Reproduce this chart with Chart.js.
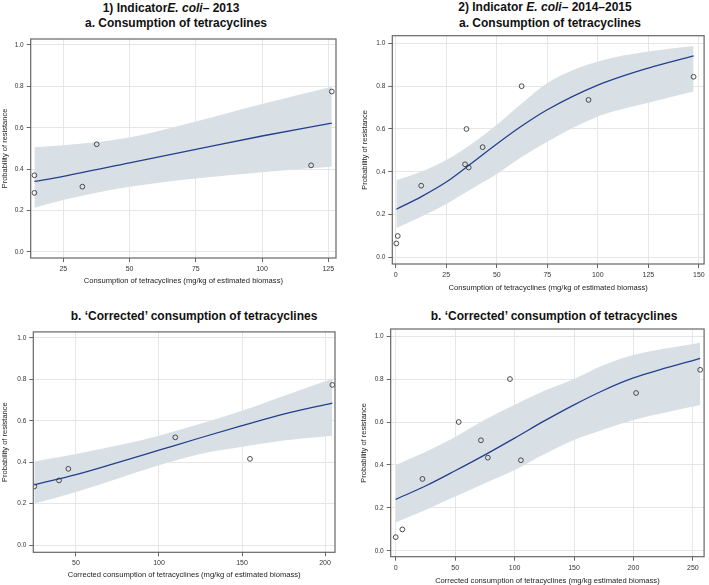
<!DOCTYPE html>
<html>
<head>
<meta charset="utf-8">
<script src="https://cdn.jsdelivr.net/npm/chart.js@4.4.0/dist/chart.umd.min.js"></script>
<style>
  body { margin: 0; background: #fff; font-family: "Liberation Sans", Arial, sans-serif; }
  #page { position: relative; width: 709px; height: 585px; overflow: hidden; background: #fff; }
  .ttl { position: absolute; transform: translateX(-50%); white-space: nowrap; font-weight: bold; font-size: 12px; line-height: 14px; color: #111; }
  canvas { position: absolute; }
</style>
</head>
<body>
<div id="page">
  <div class="ttl" style="left:171px;top:1px">1) Indicator<i>E. coli</i>– 2013</div>
  <div class="ttl" style="left:176px;top:16px">a. Consumption of tetracyclines</div>
  <div class="ttl" style="left:545px;top:0px">2) Indicator <i>E. coli</i>– 2014–2015</div>
  <div class="ttl" style="left:550px;top:16px">a. Consumption of tetracyclines</div>
  <div class="ttl" style="left:194px;top:309px">b. ‘Corrected’ consumption of tetracyclines</div>
  <div class="ttl" style="left:554px;top:309px">b. ‘Corrected’ consumption of tetracyclines</div>
  <canvas id="c1"></canvas>
  <canvas id="c2"></canvas>
  <canvas id="c3"></canvas>
  <canvas id="c4"></canvas>
</div>
<script>
// tick labels
const yTicks = [0, 0.2, 0.4, 0.6, 0.8, 1.0];
const p1XTicks = [25, 50, 75, 100, 125];
const p2XTicks = [0, 25, 50, 75, 100, 125, 150];
const p3XTicks = [50, 100, 150, 200];
const p4XTicks = [0, 50, 100, 150, 200, 250];

// 1a: 2013, consumption
const p1ObsX = [14.1, 14.1, 32.2, 37.6, 118.5, 126.3];
const p1ObsY = [0.370, 0.285, 0.315, 0.520, 0.418, 0.775];
const p1FitX = [14.1, 25, 50, 75, 100, 126.3];
const p1Fit = [0.340, 0.365, 0.430, 0.495, 0.560, 0.622];
const p1Upper = [0.505, 0.515, 0.553, 0.630, 0.715, 0.798];
const p1Lower = [0.213, 0.250, 0.314, 0.355, 0.385, 0.411];

// 2a: 2014-2015, consumption
const p2ObsX = [0.3, 1.0, 12.6, 34.3, 35.0, 36.1, 43.0, 62.3, 95.4, 147.4];
const p2ObsY = [0.065, 0.100, 0.335, 0.435, 0.600, 0.420, 0.515, 0.800, 0.736, 0.844];
const p2FitX = [0.3, 12.5, 25, 37.5, 50, 62.5, 75, 100, 125, 147.4];
const p2Fit = [0.225, 0.283, 0.352, 0.440, 0.530, 0.615, 0.690, 0.805, 0.885, 0.942];
const p2Upper = [0.360, 0.400, 0.455, 0.530, 0.620, 0.720, 0.815, 0.915, 0.962, 0.988];
const p2Lower = [0.137, 0.190, 0.250, 0.320, 0.390, 0.470, 0.540, 0.658, 0.723, 0.775];

// 1b: 2013, corrected consumption
const p3ObsX = [24.9, 39.8, 45.4, 109.8, 154.8, 204.4];
const p3ObsY = [0.283, 0.312, 0.368, 0.520, 0.416, 0.773];
const p3FitX = [24.9, 50, 75, 100, 125, 150, 175, 204.4];
const p3Fit = [0.291, 0.340, 0.398, 0.458, 0.518, 0.576, 0.632, 0.685];
const p3Upper = [0.403, 0.440, 0.480, 0.528, 0.585, 0.648, 0.720, 0.803];
const p3Lower = [0.200, 0.256, 0.320, 0.385, 0.440, 0.475, 0.505, 0.528];

// 2b: 2014-2015, corrected consumption
const p4ObsX = [0, 5.6, 22.5, 53, 71.7, 77.5, 96.1, 105.3, 202.2, 256.1];
const p4ObsY = [0.064, 0.100, 0.335, 0.600, 0.515, 0.434, 0.800, 0.422, 0.735, 0.843];
const p4FitX = [0, 25, 50, 75, 100, 125, 150, 175, 200, 256.1];
const p4Fit = [0.240, 0.302, 0.373, 0.447, 0.525, 0.605, 0.680, 0.748, 0.805, 0.896];
const p4Upper = [0.400, 0.460, 0.530, 0.610, 0.680, 0.745, 0.800, 0.865, 0.912, 0.969];
const p4Lower = [0.132, 0.190, 0.253, 0.315, 0.377, 0.450, 0.516, 0.565, 0.609, 0.679];

const FONT = '"Liberation Sans", Arial, sans-serif';
const BAND = '#d8e0e6';
const LINE = '#233f8c';

const pts = (xs, ys) => xs.map((x, i) => ({ x: x, y: ys[i] }));

// box around the whole plot area
const framePlugin = {
    id: 'frame',
    afterDatasetsDraw(chart) {
        const { ctx, chartArea: a } = chart;
        ctx.save();
        ctx.strokeStyle = '#666';
        ctx.lineWidth = 1.2;
        ctx.strokeRect(a.left, a.top, a.right - a.left, a.bottom - a.top);
        ctx.restore();
    }
};

function makePanel(id, cv, box, d) {
    const el = document.getElementById(id);
    el.width = cv.w;
    el.height = cv.h;
    el.style.left = cv.x + 'px';
    el.style.top = cv.y + 'px';

    new Chart(el, {
        type: 'scatter',
        data: {
            datasets: [
                {
                    label: 'observed',
                    data: pts(d.obsX, d.obsY),
                    pointRadius: 2.4,
                    pointBorderWidth: 0.9,
                    borderColor: '#3a3a3a',
                    backgroundColor: 'rgba(0,0,0,0)'
                },
                {
                    type: 'line',
                    label: 'fitted',
                    data: pts(d.fitX, d.fit),
                    borderColor: LINE,
                    borderWidth: 1.3,
                    pointRadius: 0,
                    cubicInterpolationMode: 'monotone',
                    fill: false
                },
                {
                    type: 'line',
                    label: 'upper',
                    data: pts(d.fitX, d.upper),
                    borderColor: 'rgba(0,0,0,0)',
                    borderWidth: 0,
                    pointRadius: 0,
                    cubicInterpolationMode: 'monotone',
                    backgroundColor: BAND,
                    fill: '+1'
                },
                {
                    type: 'line',
                    label: 'lower',
                    data: pts(d.fitX, d.lower),
                    borderColor: 'rgba(0,0,0,0)',
                    borderWidth: 0,
                    pointRadius: 0,
                    cubicInterpolationMode: 'monotone',
                    fill: false
                }
            ]
        },
        options: {
            responsive: false,
            animation: false,
            layout: {
                padding: { left: 0, top: box.t - cv.y, right: cv.x + cv.w - box.r, bottom: 0 }
            },
            plugins: { legend: { display: false }, tooltip: { enabled: false } },
            scales: {
                x: {
                    type: 'linear',
                    min: d.xMin,
                    max: d.xMax,
                    afterBuildTicks: s => { s.ticks = d.xTicks.map(v => ({ value: v })); },
                    afterFit: s => { s.height = cv.y + cv.h - box.b; },
                    ticks: { font: { size: 7, family: FONT }, color: '#333', padding: 3, maxRotation: 0, autoSkip: false },
                    grid: { color: '#e6e6e6', tickColor: '#666', tickLength: 4 },
                    border: { display: false },
                    title: { display: true, text: d.xTitle, font: { size: 7.6, family: FONT }, color: '#222', padding: 0 }
                },
                y: {
                    type: 'linear',
                    min: d.yMin,
                    max: d.yMax,
                    afterBuildTicks: s => { s.ticks = yTicks.map(v => ({ value: v })); },
                    afterFit: s => { s.width = box.l - cv.x; },
                    ticks: { font: { size: 6.5, family: FONT }, color: '#333', padding: 3, callback: v => v.toFixed(1) },
                    grid: { color: '#e6e6e6', tickColor: '#666', tickLength: 4 },
                    border: { display: false },
                    title: { display: true, text: 'Probability of resistance', font: { size: 7.5, family: FONT }, color: '#222', padding: 0 }
                }
            }
        },
        plugins: [framePlugin]
    });
}

makePanel('c1', { x: 0, y: 30, w: 345, h: 255 }, { l: 30.7, t: 39, r: 336, b: 258 }, {
    obsX: p1ObsX, obsY: p1ObsY, fitX: p1FitX, fit: p1Fit, upper: p1Upper, lower: p1Lower,
    xTicks: p1XTicks, xMin: 12.7, xMax: 127.9, yMin: -0.030, yMax: 1.029,
    xTitle: 'Consumption of tetracyclines (mg/kg of estimated biomass)'
});

makePanel('c2', { x: 360, y: 28, w: 349, h: 264 }, { l: 392.3, t: 35.7, r: 707.3, b: 264 }, {
    obsX: p2ObsX, obsY: p2ObsY, fitX: p2FitX, fit: p2Fit, upper: p2Upper, lower: p2Lower,
    xTicks: p2XTicks, xMin: -1.7, xMax: 152.6, yMin: -0.031, yMax: 1.036,
    xTitle: 'Consumption of tetracyclines (mg/kg of estimated biomass)'
});

makePanel('c3', { x: 0, y: 325, w: 345, h: 254 }, { l: 33.3, t: 330.7, r: 335, b: 552.3 }, {
    obsX: p3ObsX, obsY: p3ObsY, fitX: p3FitX, fit: p3Fit, upper: p3Upper, lower: p3Lower,
    xTicks: p3XTicks, xMin: 24.3, xMax: 206, yMin: -0.035, yMax: 1.029,
    xTitle: 'Corrected consumption of tetracyclines (mg/kg of estimated biomass)'
});

makePanel('c4', { x: 359, y: 322, w: 350, h: 263 }, { l: 390.7, t: 329, r: 707.3, b: 556.7 }, {
    obsX: p4ObsX, obsY: p4ObsY, fitX: p4FitX, fit: p4Fit, upper: p4Upper, lower: p4Lower,
    xTicks: p4XTicks, xMin: -4.2, xMax: 259.4, yMin: -0.027, yMax: 1.033,
    xTitle: 'Corrected consumption of tetracyclines (mg/kg estimated biomass)'
});
</script>
</body>
</html>
